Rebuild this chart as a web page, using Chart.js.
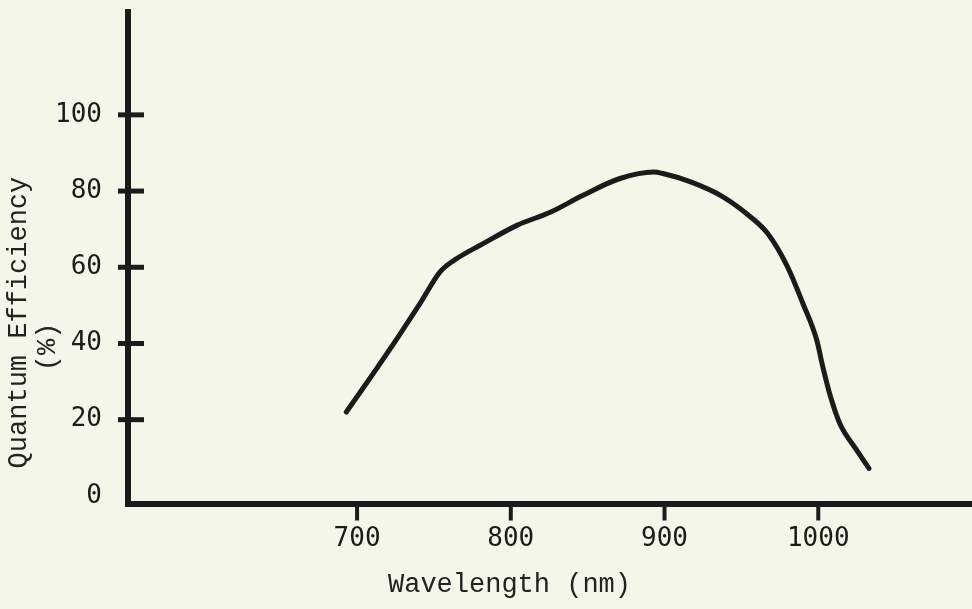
<!DOCTYPE html>
<html>
<head>
<meta charset="utf-8">
<script src="https://cdn.jsdelivr.net/npm/chart.js@4/dist/chart.umd.min.js"></script>
<style>
    html, body { margin: 0; padding: 0; background: #f5f6ea; }
    #wrap { width: 972px; height: 609px; }
</style>
</head>
<body>
<div id="wrap"><canvas id="canvas_qe"></canvas></div>
<script>
var wavelength = [693, 706, 726, 741, 754, 763, 782, 804, 826, 847, 871, 893, 899,
                  917, 938, 956, 967, 980, 990, 999, 1003, 1008, 1014, 1025, 1033];
var quantum_eff = [22.0, 29.5, 41.3, 50.5, 58.8, 61.8, 66.2, 71.0, 74.5, 78.9, 83.3, 85.0, 84.6,
                   82.4, 78.5, 73.2, 68.9, 60.1, 50.5, 40.9, 33.8, 26.0, 19.0, 12.0, 7.2];
var x_ticks = [700, 800, 900, 1000];
var y_ticks = [0, 20, 40, 60, 80, 100];

var ink = "#1b1b1b";

var points = new Array();
for (var i = 0; i < wavelength.length; i++) {
    points.push({x: wavelength[i], y: quantum_eff[i]});
}

// typed tick marks: y ticks cross the axis, x ticks hang below
var tickMarks = {
    id: "tickMarks",
    afterDraw: function(chart) {
        var ctx = chart.ctx;
        var xs = chart.scales.x;
        var ys = chart.scales.y;
        var area = chart.chartArea;
        ctx.save();
        ctx.strokeStyle = ink;
        ctx.lineCap = "butt";
        ctx.lineWidth = 5;
        for (var i = 0; i < y_ticks.length; i++) {
            if (y_ticks[i] == 0) continue;
            var py = ys.getPixelForValue(y_ticks[i]);
            ctx.beginPath();
            ctx.moveTo(area.left - 10, py);
            ctx.lineTo(area.left + 16, py);
            ctx.stroke();
        }
        ctx.lineWidth = 4;
        for (var j = 0; j < x_ticks.length; j++) {
            var px = xs.getPixelForValue(x_ticks[j]);
            ctx.beginPath();
            ctx.moveTo(px, area.bottom);
            ctx.lineTo(px, area.bottom + 17);
            ctx.stroke();
        }
        ctx.restore();
    }
};

function setTicks(list) {
    return function(scale) {
        scale.ticks = list.map(function(v) { return {value: v}; });
    };
}

function plainLabel(value) {
    return String(value);
}

var ctx = document.getElementById("canvas_qe").getContext("2d");
var chart = new Chart(ctx, {
    type: "line",
    data: {
        datasets: [{
            data: points,
            borderColor: ink,
            borderWidth: 5,
            borderCapStyle: "round",
            borderJoinStyle: "round",
            pointRadius: 0,
            cubicInterpolationMode: "monotone",
            fill: false
        }]
    },
    options: {
        responsive: true,
        maintainAspectRatio: false,
        animation: false,
        layout: {padding: {top: 12, right: 0, left: 0, bottom: 0}},
        plugins: {legend: {display: false}, tooltip: {enabled: false}},
        scales: {
            x: {
                type: "linear",
                min: 551,
                max: 1100,
                afterBuildTicks: setTicks(x_ticks),
                afterFit: function(scale) {
                    scale.height = 105.5;
                    scale.paddingLeft = 0;
                    scale.paddingRight = 0;
                },
                grid: {display: true, drawOnChartArea: false, drawTicks: false},
                border: {display: true, color: ink, width: 6},
                ticks: {
                    color: ink,
                    padding: 20,
                    maxRotation: 0,
                    callback: plainLabel,
                    font: {family: "DejaVu Sans Mono", size: 26}
                },
                title: {
                    display: true,
                    text: "Wavelength (nm)     ",
                    color: "#222",
                    padding: {top: 0, bottom: 10},
                    font: {family: "Liberation Mono", size: 27, lineHeight: 1.08}
                }
            },
            y: {
                min: -2,
                max: 127,
                afterBuildTicks: setTicks(y_ticks),
                afterFit: function(scale) {
                    scale.width = 128;
                    scale.paddingTop = 0;
                    scale.paddingBottom = 0;
                },
                grid: {display: true, drawOnChartArea: false, drawTicks: false},
                border: {display: true, color: ink, width: 6},
                ticks: {
                    color: ink,
                    padding: 26,
                    callback: plainLabel,
                    font: {family: "DejaVu Sans Mono", size: 26}
                },
                title: {
                    display: true,
                    text: ["Quantum Efficiency        ", "(%)           "],
                    color: "#222",
                    padding: {top: 4, bottom: 0},
                    font: {family: "Liberation Mono", size: 27, lineHeight: 1.08}
                }
            }
        }
    },
    plugins: [tickMarks]
});
</script>
</body>
</html>
